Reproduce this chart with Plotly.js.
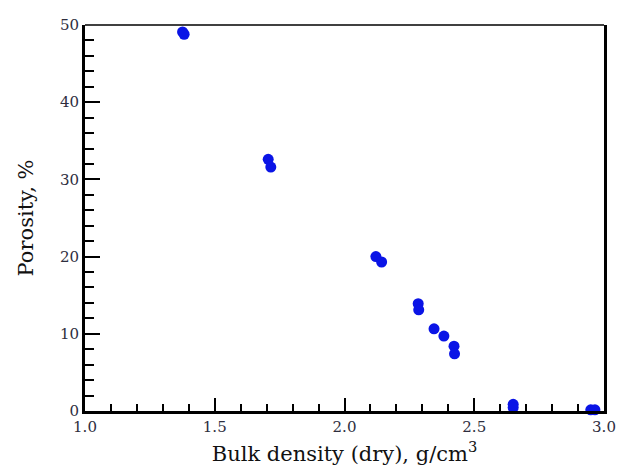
<!DOCTYPE html>
<html>
<head>
<meta charset="utf-8">
<script src="https://cdn.plot.ly/plotly-3.0.1.min.js"></script>
<style>html,body{margin:0;padding:0;background:#fff;}</style>
</head>
<body>
<div id="chart" style="width:619px;height:471px;"></div>
<script>
const bulkDensity = [1.376, 1.382, 1.706, 1.716, 2.121, 2.143, 2.284, 2.286, 2.345, 2.383, 2.422, 2.424, 2.650, 2.650, 2.949, 2.965];
const porosity    = [49.1, 48.8, 32.6, 31.6, 20.0, 19.3, 13.9, 13.1, 10.65, 9.7, 8.4, 7.4, 0.87, 0.44, 0.15, 0.15];

const trace = {
  x: bulkDensity, y: porosity, type: 'scatter', mode: 'markers',
  marker: {color: '#0a14e6', size: 11},
  cliponaxis: false, hoverinfo: 'none'
};

const serif = '"DejaVu Serif", serif';
const tickFont = {family: serif, size: 15, color: '#2e2e3e'};
const layout = {
  width: 619, height: 471,
  margin: {l: 85, r: 15, t: 25, b: 60},
  paper_bgcolor: '#fff', plot_bgcolor: '#fff',
  font: {family: serif},
  showlegend: false,
  xaxis: {
    range: [1, 3], dtick: 0.5, tick0: 1, tickformat: '.1f',
    ticks: 'inside', ticklen: 13, tickwidth: 2, tickcolor: '#000',
    minor: {dtick: 0.1, ticks: 'inside', ticklen: 7, tickwidth: 2, tickcolor: '#000', showgrid: false},
    showline: true, linewidth: 3, linecolor: '#000', mirror: false,
    showgrid: false, zeroline: false, tickfont: tickFont,
    title: {text: 'Bulk density (dry), g/cm<sup>3</sup>', font: {family: serif, size: 21, color: '#111'}, standoff: 12}
  },
  yaxis: {
    range: [0, 50], dtick: 10,
    ticks: 'inside', ticklen: 15, tickwidth: 2, tickcolor: '#000',
    minor: {dtick: 2, ticks: 'inside', ticklen: 9, tickwidth: 2, tickcolor: '#000', showgrid: false},
    showline: true, linewidth: 3, linecolor: '#000', mirror: true,
    showgrid: false, zeroline: false, tickfont: tickFont,
    title: {text: 'Porosity, %', font: {family: serif, size: 21, color: '#111'}, standoff: 21}
  },
  shapes: [{type: 'line', xref: 'paper', yref: 'paper', x0: 0, x1: 1, y0: 1, y1: 1, line: {color: '#000', width: 1.5}}]
};

Plotly.newPlot('chart', [trace], layout, {staticPlot: true, displayModeBar: false});
</script>
</body>
</html>
